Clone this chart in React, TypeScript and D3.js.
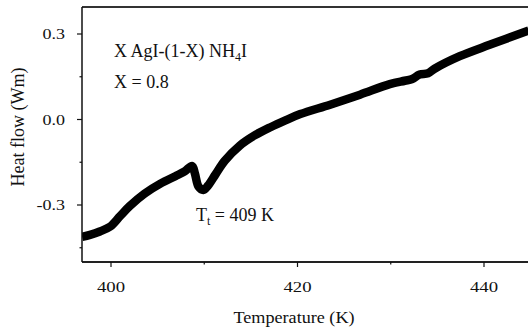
import React from "react";
import * as d3 from "d3";

const temps = [396.9, 397.75, 398.8, 399.9, 400.97, 402.0, 403.6, 405.3, 406.9, 407.9, 408.7, 409.0, 409.4, 409.9, 410.4, 411.2, 412.2, 413.8, 415.4, 417.1, 418.7, 420.3, 423.5, 426.7, 429.9, 431.5, 432.3, 433.1, 434.0, 434.7, 437.4, 440.6, 444.8];
const heatFlow = [-0.412, -0.405, -0.393, -0.376, -0.339, -0.304, -0.26, -0.225, -0.199, -0.182, -0.163, -0.19, -0.236, -0.247, -0.232, -0.193, -0.145, -0.092, -0.056, -0.027, -0.003, 0.019, 0.052, 0.087, 0.124, 0.136, 0.142, 0.158, 0.162, 0.178, 0.222, 0.262, 0.312];
const xMajorTicks = [400, 420, 440];
const xMinorTicks = [410, 430];
const yMajorTicks = [0.3, 0.0, -0.3];
const yMinorTicks = [0.15, -0.15, -0.45];

const W = 528, H = 331;
const left = 82, top = 7, right = 530, bottom = 262;
const font = '"Liberation Serif", Tinos, "DejaVu Serif", "Times New Roman", serif';

export default function App() {
  const x = d3.scaleLinear().domain([400, 440]).range([111, 484]);
  const y = d3.scaleLinear().domain([-0.3, 0.3]).range([205, 34]);
  const pts = temps.map((t, i) => [t, heatFlow[i]] as [number, number]);
  const line = d3.line<[number, number]>().x(d => x(d[0])).y(d => y(d[1])).curve(d3.curveCatmullRom.alpha(0.5));
  const ts = { fontFamily: font, fill: "#111" } as React.CSSProperties;
  return (
    <svg width={W} height={H} style={{ position: "absolute", left: 0, top: 0, background: "#fff" }}>
      <defs>
        <clipPath id="clip"><rect x={left} y={top} width={right - left} height={bottom - top} /></clipPath>
      </defs>
      <path d={line(pts) || ""} fill="none" stroke="#000" strokeWidth={8.5} strokeLinejoin="round" clipPath="url(#clip)" />
      <line x1={left} x2={right} y1={top} y2={top} stroke="#333" strokeWidth={2} />
      <line x1={left} x2={right} y1={bottom} y2={bottom} stroke="#222" strokeWidth={2} />
      <line x1={left} x2={left} y1={top} y2={bottom} stroke="#111" strokeWidth={1.5} />
      {yMajorTicks.map(v => (
        <g key={"ym" + v}>
          <line x1={left - 5} x2={left} y1={y(v)} y2={y(v)} stroke="#111" strokeWidth={1.2} />
          <text transform={`translate(${left - 17},${y(v) + 5}) scale(1.2,1)`} textAnchor="end" fontSize={15} style={ts}>{d3.format(".1f")(v).replace("−", "-")}</text>
        </g>
      ))}
      {yMinorTicks.map(v => (
        <line key={"yn" + v} x1={left - 2.5} x2={left} y1={y(v)} y2={y(v)} stroke="#111" strokeWidth={1.2} />
      ))}
      {xMajorTicks.map(v => (
        <g key={"xm" + v}>
          <line x1={x(v)} x2={x(v)} y1={bottom} y2={bottom + 5} stroke="#111" strokeWidth={1.2} />
          <text transform={`translate(${x(v)},${bottom + 30}) scale(1.25,1)`} textAnchor="middle" fontSize={15} style={ts}>{v}</text>
        </g>
      ))}
      {xMinorTicks.map(v => (
        <line key={"xn" + v} x1={x(v)} x2={x(v)} y1={bottom} y2={bottom + 2.5} stroke="#111" strokeWidth={1.2} />
      ))}
      <text transform="translate(294,323) scale(1.1,1)" textAnchor="middle" fontSize={16.5} style={ts}>Temperature (K)</text>
      <text transform={`translate(24,127) rotate(-90)`} textAnchor="middle" fontSize={18} style={ts}>Heat flow (Wm)</text>
      <text x={114} y={57} fontSize={18} style={ts}>X AgI-(1-X) NH<tspan fontSize={12} dy={4}>4</tspan><tspan dy={-4}>I</tspan></text>
      <text x={114} y={88} fontSize={18} style={ts}>X = 0.8</text>
      <text x={196} y={221} fontSize={18} style={ts}>T<tspan fontSize={12} dy={4}>t</tspan><tspan dy={-4}> = 409 K</tspan></text>
    </svg>
  );
}
